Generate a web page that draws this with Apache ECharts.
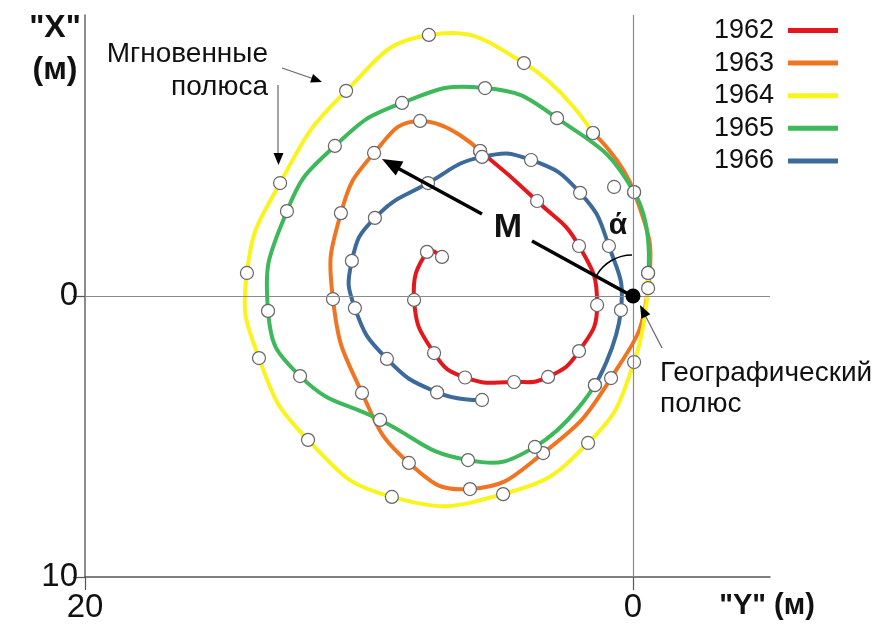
<!DOCTYPE html>
<html><head><meta charset="utf-8">
<script src="https://cdn.jsdelivr.net/npm/echarts@6/dist/echarts.min.js"></script>
<style>html,body{margin:0;padding:0;background:#fff}#c{width:877px;height:628px}</style>
</head><body><div id="c"></div>
<script>
// Years and colours
const years = ['1962', '1963', '1964', '1965', '1966'];
const colors = ['#e3171c', '#ef7522', '#f8f41c', '#3db85a', '#3c6b9b'];
// Pole positions: ["Y" (m), "X" (m)]
const s1962 = [[6.97,-1.39],[7.52,-1.57],[7.99,0.14],[7.26,2.03],[6.13,2.90],[4.34,3.06],[3.10,2.88],[1.97,1.96],[1.31,0.32],[1.97,-1.78],[3.50,-3.38],[5.58,-5.16]];
const s1963 = [[5.58,-5.16],[7.77,-6.23],[9.45,-5.09],[10.66,-2.95],[10.95,0.11],[9.89,3.45],[8.18,5.94],[5.95,6.87],[3.28,5.59],[0.80,2.92],[-0.55,-0.28],[-0.04,-3.70],[1.46,-5.80]];
const s1964 = [[1.46,-5.80],[3.98,-8.29],[7.45,-9.29],[10.47,-7.30],[12.88,-4.02],[14.09,-0.82],[13.65,2.21],[11.86,5.12],[8.80,7.15],[4.74,7.05],[1.64,5.23],[-0.04,2.35],[-0.55,-0.82]];
const s1965 = [[-0.55,-0.82],[-0.04,-3.70],[2.77,-6.33],[5.40,-7.40],[8.43,-6.87],[10.88,-5.34],[12.63,-3.02],[13.32,0.53],[12.15,2.85],[9.23,4.41],[6.02,5.84],[3.58,5.37],[1.39,3.17]];
const s1966 = [[1.39,3.17],[0.44,0.50],[0.88,-1.78],[1.93,-3.67],[3.72,-4.84],[5.51,-4.95],[7.48,-4.02],[9.42,-2.78],[10.26,-1.25],[10.15,0.43],[8.98,2.24],[7.15,3.43],[5.51,3.70]];
const extraPoints = [[0.69,-3.88]];
const geoPole = [[0,0]];
const xTicks = [0, 20];
const yTicks = [0, 10];

const seriesData = [s1962, s1963, s1964, s1965, s1966];
const FONT = '"Liberation Sans", Arial, sans-serif';

const markerStyle = { color: '#fff', borderColor: '#666', borderWidth: 1.2, opacity: 1 };

const series = [{
  type: 'scatter', data: [], silent: true,
  markLine: {
    silent: true, symbol: 'none', label: { show: false },
    lineStyle: { color: '#8a8a8a', width: 1.2, type: 'solid' },
    data: [{ xAxis: 0 }, { yAxis: 0 }], animation: false
  }
}];
// smooth curves through the points, drawn via the cartesian scales (api.coord)
seriesData.forEach((d, i) => {
  series.push({
    name: years[i], type: 'custom', data: d, z: 2, silent: true,
    encode: { x: 0, y: 1 },
    itemStyle: { color: colors[i] },
    renderItem: function (params, api) {
      if (params.dataIndex !== 0) return null;
      const pts = d.map(p => api.coord(p));
      return { type: 'polyline', shape: { points: pts, smooth: 0.5 },
        style: { stroke: colors[i], lineWidth: 4, fill: null, lineJoin: 'round', lineCap: 'round' } };
    }
  });
});
seriesData.forEach((d, i) => {
  series.push({
    name: years[i], type: 'scatter', data: d,
    symbol: 'circle', symbolSize: 13, itemStyle: markerStyle, z: 3
  });
});
series.push({ type: 'scatter', data: extraPoints, symbolSize: 13, itemStyle: markerStyle, z: 3 });
series.push({ type: 'scatter', data: geoPole, symbolSize: 15, itemStyle: { color: '#000', opacity: 1 }, z: 10 });

function arrowHead(tip, dir, len, half) {
  const n = Math.hypot(dir[0], dir[1]);
  const d = [dir[0] / n, dir[1] / n];
  const b = [tip[0] - d[0] * len, tip[1] - d[1] * len];
  const p = [-d[1], d[0]];
  return { type: 'polygon', shape: { points: [tip, [b[0] + p[0] * half, b[1] + p[1] * half], [b[0] - p[0] * half, b[1] - p[1] * half]] }, style: { fill: '#000' }, z: 100 };
}
function txt(x, y, text, font, align) {
  return { type: 'text', x: x, y: y, z: 100, style: { text: text, font: font, fill: '#111', align: align || 'center', verticalAlign: 'middle' } };
}
function line(x1, y1, x2, y2, w, c) {
  return { type: 'line', shape: { x1, y1, x2, y2 }, style: { stroke: c, lineWidth: w }, z: 100 };
}

const graphic = [
  txt(55, 28, '"X"', 'bold 32px ' + FONT),
  txt(55, 70, '(м)', 'bold 32px ' + FONT),
  txt(767, 606, '"Y" (м)', 'bold 29px ' + FONT),
  txt(268, 54, 'Мгновенные', '28px ' + FONT, 'right'),
  txt(268, 87, 'полюса', '28px ' + FONT, 'right'),
  txt(660, 373, 'Географический', '28px ' + FONT, 'left'),
  txt(660, 404, 'полюс', '28px ' + FONT, 'left'),
  txt(508, 228, 'M', 'bold 34px ' + FONT),
  txt(618, 226, 'ά', 'bold 30px ' + FONT),
  line(392, 165, 482, 214, 3.5, '#000'),
  line(532, 241, 632, 296, 3.5, '#000'),
  arrowHead([382, 159], [-249, -136], 20, 8),
  { type: 'arc', shape: { cx: 632, cy: 296, r: 41, startAngle: -150 * Math.PI / 180, endAngle: -Math.PI / 2, clockwise: true }, style: { stroke: '#000', lineWidth: 1.5, fill: null }, z: 100 },
  line(282, 68, 314, 79, 1.2, '#666'),
  arrowHead([322, 82], [40, 14], 11, 4.5),
  line(278, 85, 278, 154, 1.2, '#666'),
  arrowHead([278.5, 165], [0, 1], 12, 5),
  line(662, 348, 645, 315, 1.2, '#666'),
  arrowHead([640, 305], [-21, -41], 13, 5)
];

const chart = echarts.init(document.getElementById('c'), null, { renderer: 'canvas' });
chart.setOption({
  animation: false,
  backgroundColor: '#fff',
  grid: { left: 85, right: 107, top: 15, bottom: 51, containLabel: false },
  xAxis: {
    type: 'value', min: -5, max: 20, inverse: true,
    axisLine: { show: true, onZero: false, lineStyle: { color: '#555', width: 1.5 } },
    axisTick: { show: true, customValues: xTicks, length: 13, lineStyle: { color: '#555', width: 1.2 } },
    axisLabel: { customValues: xTicks, fontSize: 33, color: '#111', fontFamily: FONT, margin: 14 },
    splitLine: { show: false }
  },
  yAxis: {
    type: 'value', min: -10, max: 10, inverse: true,
    axisLine: { show: true, onZero: false, lineStyle: { color: '#666', width: 1.5 } },
    axisTick: { show: true, customValues: yTicks, length: 12, lineStyle: { color: '#555', width: 1.2 } },
    axisLabel: { customValues: yTicks, fontSize: 33, color: '#111', fontFamily: FONT, margin: 7 },
    splitLine: { show: false }
  },
  legend: {
    orient: 'vertical', right: 39, top: 17, align: 'right', padding: 0,
    itemWidth: 50, itemHeight: 5, itemGap: 5.6, icon: 'rect',
    textStyle: { fontSize: 27, lineHeight: 27, color: '#111', fontFamily: FONT, padding: [0, 9, 0, 0] },
    data: years.map((y, i) => ({ name: y, itemStyle: { color: colors[i], borderWidth: 0 } }))
  },
  series: series,
  graphic: graphic
});
</script></body></html>
